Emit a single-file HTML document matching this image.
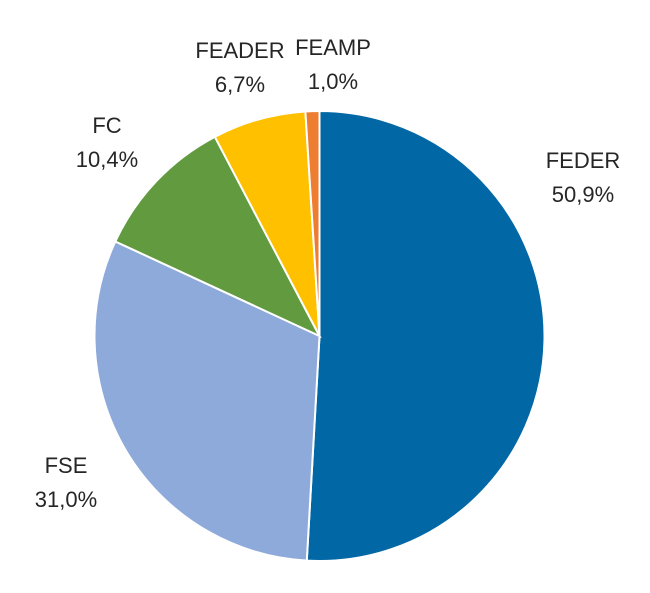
<!DOCTYPE html>
<html><head><meta charset="utf-8"><style>
html,body{margin:0;padding:0;background:#fff;}
svg text{font-family:"Liberation Sans",sans-serif;font-size:22px;fill:#262626;text-anchor:middle;}
</style></head><body>
<svg id="chart" width="650" height="588" viewBox="0 0 650 588" xmlns="http://www.w3.org/2000/svg"></svg>
<script>
const categories = ["FEDER","FSE","FC","FEADER","FEAMP"];
const values = [50.9,31.0,10.4,6.7,1.0];
const valueLabels = ["50,9%","31,0%","10,4%","6,7%","1,0%"];
const colors = ["#0168A5","#8EAADB","#629B3F","#FFC000","#ED7D31"];
const labelPos = [[583,160],[66,465],[107,125],[240,50],[333,47]];
const cx=319.5, cy=336, r=225;
const svg=document.getElementById('chart');
const NS="http://www.w3.org/2000/svg";
const total=values.reduce((a,b)=>a+b,0);
let a0=0;
values.forEach((v,i)=>{
  const a1=a0+v/total*2*Math.PI;
  const x0=cx+r*Math.sin(a0), y0=cy-r*Math.cos(a0);
  const x1=cx+r*Math.sin(a1), y1=cy-r*Math.cos(a1);
  const large=(a1-a0)>Math.PI?1:0;
  const p=document.createElementNS(NS,'path');
  p.setAttribute('d',`M${cx},${cy}L${x0},${y0}A${r},${r} 0 ${large} 1 ${x1},${y1}Z`);
  p.setAttribute('fill',colors[i]);
  p.setAttribute('stroke','#fff');
  p.setAttribute('stroke-width','2');
  
  
  svg.appendChild(p);
  a0=a1;
});
categories.forEach((c,i)=>{
  const t=document.createElementNS(NS,'text');
  t.setAttribute('x',labelPos[i][0]);t.setAttribute('y',labelPos[i][1]+8);
  
  
  t.textContent=c;svg.appendChild(t);
  const t2=document.createElementNS(NS,'text');
  t2.setAttribute('x',labelPos[i][0]);t2.setAttribute('y',labelPos[i][1]+42);
  
  
  t2.textContent=valueLabels[i];svg.appendChild(t2);
});
</script>
</body></html>
